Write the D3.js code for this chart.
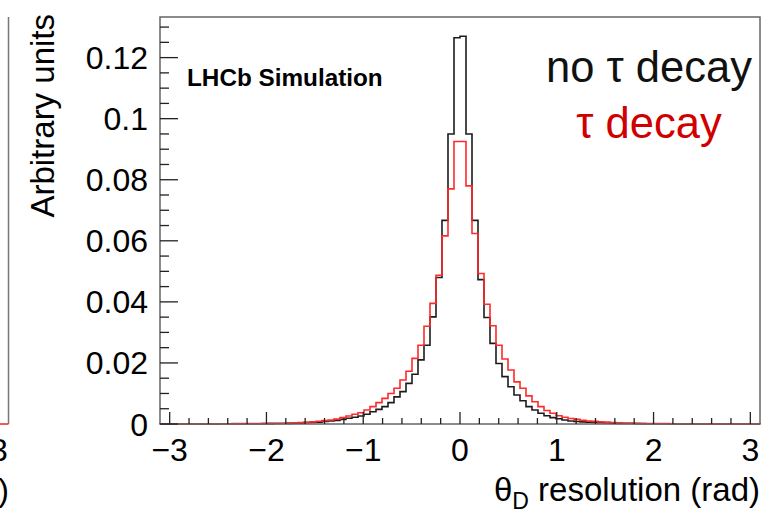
<!DOCTYPE html>
<html>
<head>
<meta charset="utf-8">
<script src="https://cdn.jsdelivr.net/npm/d3@7"></script>
<style>
  body { margin: 0; background: #fff; }
  text { font-family: "Liberation Sans", Arial, Helvetica, sans-serif; }
</style>
</head>
<body>
<svg id="chart" width="775" height="509"></svg>
<script>
// histogram binning: 100 bins between -3.1 and 3.1
const nBins = 100;
const xLow = -3.1, xHigh = 3.1;

// no tau decay (black)
const noTau = [
  0.00002, 0.00002, 0.00002, 0.00003, 0.00003, 0.00003, 0.00004, 0.00004, 0.00005, 0.00005,
  0.00006, 0.00006, 0.00007, 0.00008, 0.00008, 0.00009, 0.0001, 0.00011, 0.00012, 0.00014,
  0.00017, 0.0002, 0.00025, 0.0003, 0.0004, 0.0005, 0.0006, 0.0008, 0.001, 0.0012,
  0.0015, 0.0019, 0.0022, 0.0026, 0.0032, 0.004, 0.0048, 0.0057, 0.007, 0.0089,
  0.0106, 0.0133, 0.0163, 0.021, 0.0258, 0.0351, 0.048, 0.0667, 0.095, 0.1265,
  0.127, 0.095, 0.0667, 0.0473, 0.0349, 0.0264, 0.0198, 0.0155, 0.0122, 0.0095,
  0.0076, 0.0057, 0.0046, 0.0035, 0.0027, 0.0021, 0.0017, 0.0013, 0.001, 0.0008,
  0.0007, 0.0006, 0.0005, 0.0004, 0.00033, 0.00027, 0.00022, 0.00018, 0.00015, 0.00012,
  0.0001, 0.00009, 0.00008, 0.00007, 0.00006, 0.00005, 0.00005, 0.00004, 0.00004, 0.00003,
  0.00003, 0.00003, 0.00002, 0.00002, 0.00002, 0.00002, 0.00002, 0.00002, 0.00002, 0.00002
];

// tau decay (red)
const withTau = [
  0.00003, 0.00003, 0.00004, 0.00004, 0.00005, 0.00005, 0.00006, 0.00006, 0.00007, 0.00008,
  0.00009, 0.0001, 0.00011, 0.00012, 0.00013, 0.00015, 0.00016, 0.00018, 0.0002, 0.00023,
  0.00027, 0.00032, 0.0004, 0.0005, 0.0006, 0.0007, 0.0009, 0.0011, 0.0013, 0.0016,
  0.0021, 0.0026, 0.0032, 0.0037, 0.0046, 0.0057, 0.007, 0.0084, 0.01, 0.0117,
  0.0144, 0.0173, 0.0215, 0.0258, 0.032, 0.0395, 0.0487, 0.0616, 0.077, 0.0925,
  0.0925, 0.078, 0.0624, 0.0493, 0.0392, 0.0322, 0.0258, 0.0213, 0.0177, 0.0138,
  0.0117, 0.0092, 0.0073, 0.0057, 0.0044, 0.0035, 0.0027, 0.0022, 0.0018, 0.0015,
  0.0012, 0.001, 0.00085, 0.0007, 0.0006, 0.0005, 0.0004, 0.00034, 0.00028, 0.00023,
  0.0002, 0.00017, 0.00015, 0.00013, 0.00011, 0.0001, 0.00009, 0.00008, 0.00007, 0.00006,
  0.00005, 0.00005, 0.00004, 0.00004, 0.00003, 0.00003, 0.00003, 0.00003, 0.00003, 0.00003
];

const xTicks = [-3, -2, -1, 0, 1, 2, 3];
const yTicks = [0, 0.02, 0.04, 0.06, 0.08, 0.1, 0.12];
const yTickLabels = ["0", "0.02", "0.04", "0.06", "0.08", "0.1", "0.12"];
const legendLabels = ["no \u03c4 decay", "\u03c4 decay"];

const svg = d3.select("#chart");

const frame = {left: 160, right: 760, top: 17, bottom: 424};
const yMax = 0.1333;

const x = d3.scaleLinear().domain([xLow, xHigh]).range([frame.left, frame.right]);
const y = d3.scaleLinear().domain([0, yMax]).range([frame.bottom, frame.top]);

const binWidth = (xHigh - xLow) / nBins;

// neighbouring panel, cut off at the left edge
svg.append("line")
  .attr("x1", 8.5).attr("x2", 8.5)
  .attr("y1", frame.top).attr("y2", frame.bottom)
  .attr("stroke", "#777").attr("stroke-width", 1.5);
svg.append("line")
  .attr("x1", 0).attr("x2", 8.5)
  .attr("y1", frame.bottom).attr("y2", frame.bottom)
  .attr("stroke", "#e22").attr("stroke-width", 1.5);
svg.append("text")
  .attr("x", -1).attr("y", 461)
  .attr("text-anchor", "middle")
  .attr("font-size", 32)
  .text("3");
svg.append("text")
  .attr("x", 9).attr("y", 501)
  .attr("text-anchor", "end")
  .attr("font-size", 32)
  .text(")");

// step outline of a histogram
function histPath(vals) {
  var pts = [[xLow, 0]];
  vals.forEach((v, i) => pts.push([xLow + i * binWidth, v]));
  pts.push([xHigh, vals[vals.length - 1]]);
  pts.push([xHigh, 0]);
  return d3.line()
    .x(d => x(d[0]))
    .y(d => y(d[1]))
    .curve(d3.curveStepAfter)(pts);
}

svg.append("path")
  .attr("d", histPath(noTau))
  .attr("fill", "none")
  .attr("stroke", "#1c1c1c")
  .attr("stroke-width", 1.6);

svg.append("path")
  .attr("d", histPath(withTau))
  .attr("fill", "none")
  .attr("stroke", "#ff2a2a")
  .attr("stroke-width", 1.6);

// frame
svg.append("rect")
  .attr("x", frame.left).attr("y", frame.top)
  .attr("width", frame.right - frame.left)
  .attr("height", frame.bottom - frame.top)
  .attr("fill", "none")
  .attr("stroke", "#666")
  .attr("stroke-width", 1.5);

// x axis ticks (major 1, minor 0.2)
const xMinor = d3.range(-3, 3.001, 0.2).map(v => +v.toFixed(1));
svg.append("g").selectAll("line")
  .data(xMinor)
  .join("line")
    .attr("x1", d => x(d)).attr("x2", d => x(d))
    .attr("y1", frame.bottom)
    .attr("y2", d => frame.bottom - (Number.isInteger(d) ? 12 : 6))
    .attr("stroke", "#222")
    .attr("stroke-width", 1.3);

svg.append("g").selectAll("text")
  .data(xTicks)
  .join("text")
    .attr("x", d => x(d))
    .attr("y", 461)
    .attr("text-anchor", "middle")
    .attr("font-size", 32)
    .text(d => d < 0 ? "\u2212" + Math.abs(d) : d);

// y axis ticks (major 0.02, minor 0.005)
const yMinor = d3.range(0, yMax, 0.005).map(v => +v.toFixed(3));
svg.append("g").selectAll("line")
  .data(yMinor)
  .join("line")
    .attr("x1", frame.left)
    .attr("x2", (d, i) => frame.left + (i % 4 === 0 ? 18 : 9))
    .attr("y1", d => y(d)).attr("y2", d => y(d))
    .attr("stroke", "#222")
    .attr("stroke-width", 1.3);

svg.append("g").selectAll("text")
  .data(yTicks)
  .join("text")
    .attr("x", 148)
    .attr("y", d => y(d))
    .attr("dy", "0.36em")
    .attr("text-anchor", "end")
    .attr("font-size", 32)
    .text((d, i) => yTickLabels[i]);

// axis titles
svg.append("text")
  .attr("transform", "translate(54,14) rotate(-90)")
  .attr("text-anchor", "end")
  .attr("font-size", 33)
  .text("Arbitrary units");

var xt = svg.append("text")
  .attr("x", frame.right)
  .attr("y", 501)
  .attr("text-anchor", "end")
  .attr("font-size", 33);
xt.append("tspan").text("\u03b8");
xt.append("tspan").attr("font-size", 23).attr("dy", 8).text("D");
xt.append("tspan").attr("dy", -8).text(" resolution (rad)");

// labels
svg.append("text")
  .attr("x", 187).attr("y", 86)
  .attr("font-size", 24.3)
  .attr("font-weight", "bold")
  .text("LHCb Simulation");

svg.append("g").selectAll("text")
  .data(legendLabels)
  .join("text")
    .attr("x", 649)
    .attr("y", (d, i) => 82 + i * 56)
    .attr("text-anchor", "middle")
    .attr("font-size", 43.5)
    .attr("fill", (d, i) => i === 0 ? "#111" : "#d10000")
    .text(d => d);
</script>
</body>
</html>
